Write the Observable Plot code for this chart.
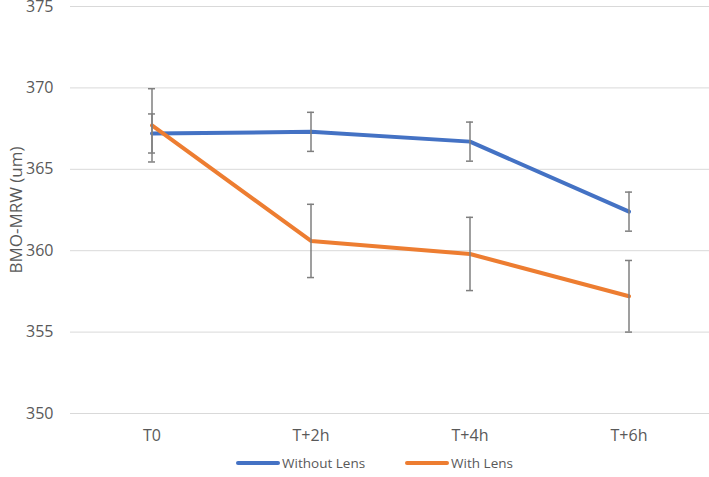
<!DOCTYPE html>
<html>
<head>
<meta charset="utf-8">
<script src="https://cdn.jsdelivr.net/npm/d3@7"></script>
<script src="https://cdn.jsdelivr.net/npm/@observablehq/plot@0.6"></script>
<style>
  body { margin: 0; background: #fff; font-family: "Open Sans", sans-serif; }
  #legend { display: flex; justify-content: center; align-items: center; gap: 40px; padding-left: 40px; padding-top: 10px; height: 28px; font-size: 13.5px; color: #595959; }
  .item { display: flex; align-items: center; gap: 2px; }
  .sw { width: 44px; height: 4px; border-radius: 2px; }
</style>
</head>
<body>
<div id="chart"></div>
<script>
const times = ["T0", "T+2h", "T+4h", "T+6h"];
const seriesNames = ["Without Lens", "With Lens"];
const withoutLens = [367.2, 367.3, 366.7, 362.4];
const withoutLensErr = [1.2, 1.2, 1.2, 1.2];
const withLens = [367.7, 360.6, 359.8, 357.2];
const withLensErr = [2.25, 2.25, 2.25, 2.2];
const colors = ["#4472C4", "#ED7D31"];
const yTicks = [350, 355, 360, 365, 370, 375];

const data = [];
times.forEach((t, i) => {
  data.push({t, series: seriesNames[0], v: withoutLens[i], lo: withoutLens[i] - withoutLensErr[i], hi: withoutLens[i] + withoutLensErr[i]});
});
times.forEach((t, i) => {
  data.push({t, series: seriesNames[1], v: withLens[i], lo: withLens[i] - withLensErr[i], hi: withLens[i] + withLensErr[i]});
});

const chart = Plot.plot({
  width: 709,
  height: 439,
  marginLeft: 70,
  marginRight: 0,
  marginTop: 6,
  marginBottom: 26,
  style: { fontFamily: "Open Sans, sans-serif", fontSize: "16px", color: "#595959", overflow: "visible" },
  x: { type: "band", domain: times, padding: 0 },
  y: { domain: [350, 375] },
  color: { domain: seriesNames, range: colors },
  marks: [
    Plot.gridY(yTicks, { stroke: "#d9d9d9", strokeOpacity: 1, strokeWidth: 1 }),
    Plot.axisY({ ticks: yTicks, tickSize: 0, tickPadding: 17, label: null, fontSize: 16 }),
    Plot.text(["BMO-MRW (um)"], { frameAnchor: "left", dx: -61, rotate: -90, fontSize: 17, fill: "#595959", textAnchor: "middle", lineAnchor: "top" }),
    Plot.axisX({ tickSize: 0, tickPadding: 16, label: null, fontSize: 16 }),
    Plot.line(data, { x: "t", y: "v", z: "series", stroke: "series", strokeWidth: 4, strokeLinejoin: "round", strokeLinecap: "round" }),
    Plot.ruleX(data, { x: "t", y1: "lo", y2: "hi", stroke: "#7f7f7f", strokeWidth: 1.5 }),
    Plot.tickY(data, { x: "t", y: "lo", stroke: "#7f7f7f", strokeWidth: 1.5, insetLeft: 76, insetRight: 76 }),
    Plot.tickY(data, { x: "t", y: "hi", stroke: "#7f7f7f", strokeWidth: 1.5, insetLeft: 76, insetRight: 76 })
  ]
});
document.getElementById("chart").appendChild(chart);

const legend = document.createElement("div");
legend.id = "legend";
seriesNames.forEach((name, i) => {
  const item = document.createElement("div");
  item.className = "item";
  const sw = document.createElement("div");
  sw.className = "sw";
  sw.style.background = colors[i];
  const label = document.createElement("span");
  label.textContent = name;
  item.appendChild(sw);
  item.appendChild(label);
  legend.appendChild(item);
});
document.body.appendChild(legend);
</script>
</body>
</html>
